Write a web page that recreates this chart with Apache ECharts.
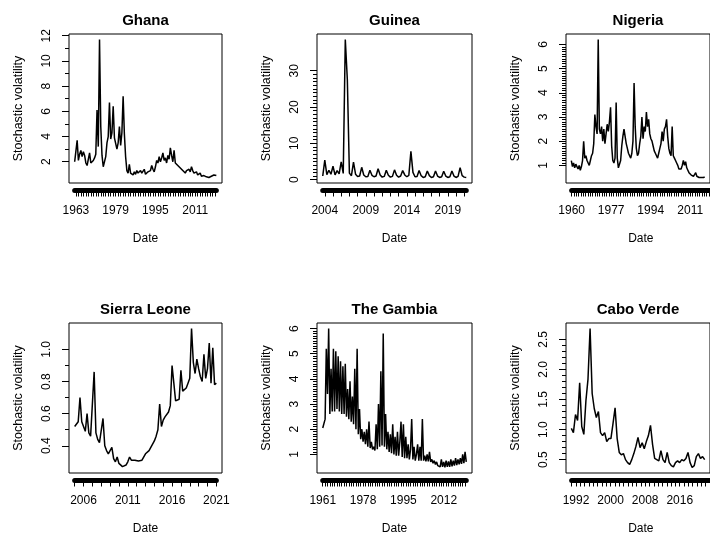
<!DOCTYPE html>
<html>
<head>
<meta charset="utf-8">
<title>Stochastic volatility</title>
<script src="https://cdn.jsdelivr.net/npm/echarts@6.0.0/dist/echarts.min.js"></script>
<style>
html, body { margin: 0; padding: 0; background: #fff; }
#main { width: 710px; height: 536px; }
</style>
</head>
<body>
<div id="main"></div>
<script>
// series, one value per step (years)
var ghanaStart = 1962.5, ghanaStep = 0.5;
var ghanaValues = [2.0, 1.9, 3.7, 2.1, 2.6, 2.9, 2.4, 2.8, 2.5, 1.9, 1.7, 1.8, 2.7, 1.9, 2.0, 2.1, 2.3, 2.6, 6.1, 3.2,
    11.7, 4.8, 2.5, 1.6, 1.7, 2.4, 3.5, 4.0, 6.7, 3.8, 4.3, 6.4, 3.9, 4.0, 3.0, 3.5, 4.8, 3.3, 4.3, 7.2,
    4.2, 2.4, 1.3, 1.1, 1.8, 1.1, 1.0, 0.95, 1.2, 1.0, 1.3, 1.1, 1.0, 1.3, 1.1, 1.0, 1.4, 1.0, 0.9, 1.2,
    1.1, 1.3, 1.7, 1.4, 1.2, 1.6, 2.1, 1.9, 2.4, 2.0, 2.3, 2.7, 2.1, 2.3, 1.9, 2.5, 2.2, 3.1, 2.5, 2.0,
    2.9, 1.9, 1.8, 1.7, 1.6, 1.5, 1.4, 1.3, 1.2, 1.1, 1.3, 1.2, 1.4, 1.2, 1.6, 1.3, 1.1, 1.0, 1.2, 0.95,
    0.9, 1.1, 0.85, 0.8, 0.9, 0.75, 0.8, 0.9, 0.75, 0.8, 0.85, 0.8, 0.95, 0.85, 0.9];
var ghanaXLabels = [1963, 1979, 1995, 2011];
var ghanaYLabels = [2, 4, 6, 8, 10, 12];

var guineaStart = 2003.75, guineaStep = 0.25;
var guineaValues = [1.0, 5.4, 1.4, 2.6, 1.5, 3.7, 1.3, 2.5, 1.6, 4.9, 1.7, 38.6, 27.5, 1.8, 1.1, 4.8, 1.5, 0.9, 1.0, 3.4,
    1.3, 0.8, 0.9, 2.6, 1.2, 0.8, 1.0, 3.0, 1.3, 0.7, 0.9, 2.6, 1.2, 0.7, 0.9, 2.7, 1.2, 0.7, 1.0, 2.5,
    1.3, 0.8, 1.2, 7.8, 2.0, 0.8, 0.9, 2.5, 1.1, 0.6, 0.8, 2.4, 1.1, 0.6, 0.8, 2.4, 1.0, 0.6, 0.8, 2.3,
    1.0, 0.6, 0.8, 2.4, 1.0, 0.6, 0.9, 3.3, 1.1, 0.7, 0.6];
var guineaXLabels = [2004, 2009, 2014, 2019];
var guineaYLabels = [0, 10, 20, 30];

var nigeriaStart = 1960, nigeriaStep = 0.5;
var nigeriaValues = [1.2, 0.95, 1.1, 0.9, 1.05, 0.95, 0.85, 1.0, 0.8, 0.95, 1.2, 2.0, 1.3, 1.4, 1.2, 1.1, 1.0, 1.2, 1.4, 1.5,
    1.9, 3.1, 2.6, 2.3, 6.2, 2.5, 2.3, 2.6, 2.0, 2.5, 1.9, 2.3, 2.7, 2.4, 2.8, 3.4, 1.8, 1.2, 1.1, 1.3,
    3.6, 1.3, 0.9, 0.95, 1.2, 1.8, 2.2, 2.5, 2.2, 1.9, 1.7, 1.5, 1.4, 1.3, 1.5, 2.0, 4.4, 2.6, 1.7, 1.4,
    1.5, 1.9, 2.2, 3.0, 2.1, 2.6, 2.4, 3.2, 2.6, 2.9, 2.3, 2.1, 2.0, 1.8, 1.6, 1.5, 1.4, 1.3, 1.5, 1.7,
    1.9, 2.4, 2.0, 2.5, 2.6, 2.9, 2.2, 1.7, 1.5, 1.4, 2.6, 1.4, 1.3, 1.2, 1.1, 1.0, 0.85, 0.8, 0.85, 1.0,
    1.2, 1.0, 1.15, 0.9, 0.8, 0.7, 0.65, 0.6, 0.58, 0.55, 0.55, 0.7, 0.55, 0.52, 0.5, 0.52, 0.5, 0.55, 0.5, 0.52];
var nigeriaXLabels = [1960, 1977, 1994, 2011];
var nigeriaYLabels = [1, 2, 3, 4, 5, 6];

var sierraStart = 2005.0, sierraStep = 0.2;
var sierraValues = [0.52, 0.51, 0.55, 0.70, 0.55, 0.52, 0.49, 0.60, 0.48, 0.46, 0.47, 0.86, 0.48, 0.44, 0.42, 0.41, 0.57, 0.40, 0.37, 0.35,
    0.34, 0.39, 0.32, 0.30, 0.33, 0.29, 0.28, 0.27, 0.265, 0.28, 0.30, 0.33, 0.31, 0.305, 0.31, 0.30, 0.305, 0.30, 0.31, 0.32,
    0.35, 0.34, 0.37, 0.39, 0.41, 0.43, 0.46, 0.50, 0.66, 0.52, 0.56, 0.58, 0.57, 0.61, 0.65, 0.90, 0.79, 0.68, 0.67, 0.69,
    0.87, 0.74, 0.73, 0.76, 0.79, 0.82, 1.13, 0.92, 0.85, 0.94, 0.88, 0.83, 0.80, 0.97, 0.82, 0.88, 1.04, 0.79, 1.01, 0.78, 0.79];
var sierraXLabels = [2006, 2011, 2016, 2021];
var sierraYLabels = [0.4, 0.6, 0.8, 1.0];

var gambiaStart = 1961.0, gambiaStep = 0.5;
var gambiaValues = [2.05, 2.1, 2.4, 5.2, 3.4, 6.0, 2.6, 4.4, 2.7, 5.2, 2.7, 5.1, 2.8, 4.9, 2.7, 4.7, 2.6, 4.5, 2.6, 4.6, 2.5,
    3.6, 2.4, 3.9, 2.3, 3.3, 2.2, 4.4, 2.0, 5.2, 1.8, 2.8, 1.6, 2.0, 1.5, 1.9, 1.4, 2.0, 1.3, 2.3, 1.25,
    1.5, 1.2, 1.3, 1.15, 2.2, 1.2, 3.0, 1.3, 4.3, 1.35, 5.8, 1.3, 2.6, 1.2, 1.9, 1.1, 1.8, 1.05, 2.2, 1.0,
    1.7, 0.95, 1.9, 0.95, 1.5, 2.3, 0.9, 2.2, 0.85, 1.7, 0.85, 1.4, 0.8, 1.2, 2.4, 0.8, 1.3, 0.75, 1.0, 1.4,
    0.75, 1.3, 0.75, 2.4, 0.75, 0.95, 0.72, 1.0, 0.72, 1.1, 0.7, 0.8, 0.65, 0.75, 0.6, 0.7, 0.55, 0.6, 0.5, 0.8,
    0.5, 0.7, 0.48, 0.75, 0.5, 0.72, 0.5, 0.8, 0.52, 0.75, 0.55, 0.85, 0.57, 0.8, 0.6, 0.85, 0.62, 1.0, 0.65, 1.1, 0.7];
var gambiaXLabels = [1961, 1978, 1995, 2012];
var gambiaYLabels = [1, 2, 3, 4, 5, 6];

var caboStart = 1991.0, caboStep = 0.5;
var caboValues = [1.02, 0.95, 1.25, 1.15, 1.78, 1.05, 0.92, 1.48, 1.84, 2.68, 1.6, 1.35, 1.2, 1.3, 0.95, 0.9, 0.95, 0.8, 0.85, 0.85,
    1.1, 1.36, 0.85, 0.62, 0.58, 0.6, 0.5, 0.45, 0.42, 0.5, 0.6, 0.72, 0.87, 0.7, 0.78, 0.68, 0.8, 0.9, 1.07, 0.75,
    0.52, 0.5, 0.48, 0.65, 0.5, 0.45, 0.62, 0.45, 0.4, 0.38, 0.45, 0.48, 0.45, 0.5, 0.48, 0.52, 0.62, 0.45, 0.37, 0.4,
    0.55, 0.6, 0.52, 0.55, 0.5];
var caboXLabels = [1992, 2000, 2008, 2016];
var caboYLabels = [0.5, 1.0, 1.5, 2.0, 2.5];

var FONT = '"Liberation Sans", Arial, sans-serif';

var panels = [
    {title: 'Ghana', start: ghanaStart, step: ghanaStep, values: ghanaValues, xLabels: ghanaXLabels, yLabels: ghanaYLabels, yMinor: 1, yDec: 0, box: [69, 34, 153, 149]},
    {title: 'Guinea', start: guineaStart, step: guineaStep, values: guineaValues, xLabels: guineaXLabels, yLabels: guineaYLabels, yMinor: 1, yDec: 0, box: [317, 34, 155, 149]},
    {title: 'Nigeria', start: nigeriaStart, step: nigeriaStep, values: nigeriaValues, xLabels: nigeriaXLabels, yLabels: nigeriaYLabels, yMinor: 0.1, yDec: 0, box: [566, 34, 153, 149]},
    {title: 'Sierra Leone', start: sierraStart, step: sierraStep, values: sierraValues, xLabels: sierraXLabels, yLabels: sierraYLabels, yMinor: 0.1, yDec: 1, box: [69, 323, 153, 150]},
    {title: 'The Gambia', start: gambiaStart, step: gambiaStep, values: gambiaValues, xLabels: gambiaXLabels, yLabels: gambiaYLabels, yMinor: 0.1, yDec: 0, box: [317, 323, 155, 150]},
    {title: 'Cabo Verde', start: caboStart, step: caboStep, values: caboValues, xLabels: caboXLabels, yLabels: caboYLabels, yMinor: 0.1, yDec: 1, box: [566, 323, 153, 150]}
];

function toPairs(start, step, values) {
    return values.map(function (v, i) {
        return [+(start + i * step).toFixed(3), v];
    });
}

function stepsBetween(a, b, step) {
    var out = [];
    for (var k = Math.ceil(a / step - 1e-6); k * step <= b + 1e-6; k++) {
        out.push(+(k * step).toFixed(4));
    }
    return out;
}

var grid = [], xAxis = [], yAxis = [], series = [];
var txt = {fontFamily: FONT, fontSize: 12, color: '#000'};

panels.forEach(function (p) {
    var data = toPairs(p.start, p.step, p.values);
    var x0 = data[0][0], x1 = data[data.length - 1][0];
    var ymin = Math.min.apply(null, p.values), ymax = Math.max.apply(null, p.values);
    var dx = (x1 - x0) * 0.04, dy = (ymax - ymin) * 0.04;
    var L = p.box[0], T = p.box[1], W = p.box[2], H = p.box[3];
    var g = grid.length;

    // plot box, and a narrower grid for the R style date axis
    grid.push({left: L, top: T, width: W, height: H, show: true, borderColor: '#000', borderWidth: 1, backgroundColor: 'transparent'});
    grid.push({left: L + W * 0.04 / 1.08, top: T, width: W / 1.08, height: H, show: false});

    var xi = xAxis.length, yi = yAxis.length;
    xAxis.push({
        gridIndex: g, type: 'value', position: 'top', min: x0 - dx, max: x1 + dx,
        axisLine: {show: false, onZero: false}, axisTick: {show: false}, axisLabel: {show: false}, splitLine: {show: false},
        name: p.title, nameLocation: 'middle', nameGap: 6,
        nameTextStyle: {fontFamily: FONT, fontSize: 15, fontWeight: 'bold', color: '#000'}
    });
    xAxis.push({
        gridIndex: g + 1, type: 'value', position: 'bottom', min: x0, max: x1, offset: 7,
        axisLine: {show: true, onZero: false, lineStyle: {color: '#000', width: 5}},
        axisTick: {show: true, length: 6.5, customValues: stepsBetween(x0, x1, 1), lineStyle: {color: '#000', width: 1}},
        axisLabel: Object.assign({customValues: p.xLabels, margin: 15, formatter: function (v) { return String(Math.round(v)); }}, txt),
        splitLine: {show: false},
        name: 'Date', nameLocation: 'middle', nameGap: 43, nameTextStyle: txt
    });
    yAxis.push({
        gridIndex: g, type: 'value', position: 'left', min: ymin - dy, max: ymax + dy,
        axisLine: {show: false, onZero: false},
        axisTick: {show: true, length: 7, customValues: p.yLabels, lineStyle: {color: '#000', width: 1}},
        axisLabel: Object.assign({customValues: p.yLabels, rotate: 90, margin: 16, formatter: function (v) { return v.toFixed(p.yDec); }}, txt),
        splitLine: {show: false},
        name: 'Stochastic volatility', nameLocation: 'middle', nameRotate: 90, nameGap: 44,
        nameTextStyle: {fontFamily: FONT, fontSize: 12.5, color: '#000'}
    });
    yAxis.push({
        gridIndex: g, type: 'value', position: 'left', min: ymin - dy, max: ymax + dy,
        axisLine: {show: false, onZero: false},
        axisTick: {show: true, length: 4, customValues: stepsBetween(p.yLabels[0], p.yLabels[p.yLabels.length - 1], p.yMinor), lineStyle: {color: '#000', width: 1}},
        axisLabel: {show: false}, splitLine: {show: false}
    });
    yAxis.push({gridIndex: g + 1, type: 'value', show: false});

    series.push({
        type: 'line', xAxisIndex: xi, yAxisIndex: yi, data: data,
        showSymbol: false, symbol: 'none',
        lineStyle: {color: '#000', width: 1.5}
    });
});

var chart = echarts.init(document.getElementById('main'), null, {renderer: 'canvas'});
chart.setOption({
    animation: false,
    backgroundColor: '#fff',
    grid: grid,
    xAxis: xAxis,
    yAxis: yAxis,
    series: series
});
</script>
</body>
</html>
